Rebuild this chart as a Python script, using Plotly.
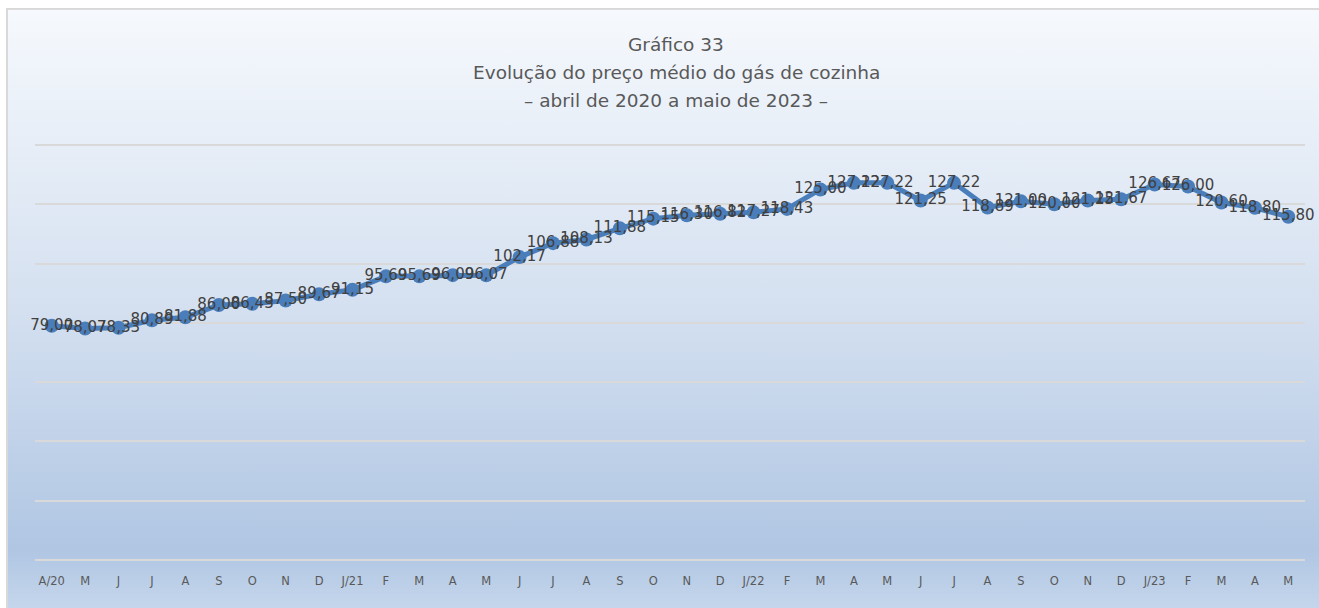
import base64
import plotly.graph_objects as go

# ---- data ----
month_labels = ["A/20", "M", "J", "J", "A", "S", "O", "N", "D",
                "J/21", "F", "M", "A", "M", "J", "J", "A", "S", "O", "N", "D",
                "J/22", "F", "M", "A", "M", "J", "J", "A", "S", "O", "N", "D",
                "J/23", "F", "M", "A", "M"]
prices = [79.00, 78.07, 78.33, 80.89, 81.88, 86.00, 86.43, 87.50, 89.67,
          91.15, 95.69, 95.69, 96.09, 96.07, 102.17, 106.88, 108.13, 111.88, 115.15, 116.30, 116.82,
          117.27, 118.43, 125.00, 127.22, 127.22, 121.25, 127.22, 118.89, 121.00, 120.00, 121.25, 121.67,
          126.67, 126.00, 120.60, 118.80, 115.80]
y_ticks = [0, 20, 40, 60, 80, 100, 120, 140]

title_lines = ["Gráfico 33",
               "Evolução do preço médio do gás de cozinha",
               "– abril de 2020 a maio de 2023 –"]
title_line_px = [45, 73, 101]

# ---- layout geometry (pixels) ----
W, H = 1319, 608
Y0_PX, Y140_PX = 560, 145          # pixel rows of value 0 and 140
YMIN, YMAX = -1, 141               # padded range so edge gridlines are drawn
ppu = (Y0_PX - Y140_PX) / 140.0
ML, MR = 35, 14
MT = Y140_PX - (YMAX - 140) * ppu
MB = H - Y0_PX - (0 - YMIN) * ppu
PW = W - ML - MR
PH = H - MT - MB

x_idx = list(range(len(prices)))
labels = [f"{v:.2f}".replace(".", ",") for v in prices]

def py_to_paper(py):
    return (H - MB - py) / PH

def px_to_paper(px):
    return (px - ML) / PW

# background gradient (chart area) as an SVG image
bx0, by0 = 6, 8
bw, bh = W - bx0 + 2, H - by0 + 2
svg = f'''<svg xmlns="http://www.w3.org/2000/svg" width="{bw}" height="{bh}" viewBox="0 0 {bw} {bh}" preserveAspectRatio="none">
<defs><linearGradient id="g" x1="0" y1="0" x2="0" y2="1">
<stop offset="0" stop-color="#f6f9fd"/>
<stop offset="0.5" stop-color="#d4e0f0"/>
<stop offset="0.9" stop-color="#b0c6e3"/>
<stop offset="1" stop-color="#c6d7ec"/>
</linearGradient></defs>
<rect x="1" y="1" width="{bw}" height="{bh}" fill="url(#g)" stroke="#d9d9d9" stroke-width="2"/>
</svg>'''
src = "data:image/svg+xml;base64," + base64.b64encode(svg.encode()).decode()

fig = go.Figure()
fig.add_trace(go.Scatter(
    x=x_idx, y=prices,
    mode="lines+markers+text",
    line=dict(color="#4a7ebb", width=5),
    marker=dict(color="#4a7ebb", size=14),
    text=labels,
    textposition="middle center",
    textfont=dict(family="DejaVu Sans", size=15, color="#404040"),
    cliponaxis=False,
    hoverinfo="x+y",
    showlegend=False,
))

fig.add_layout_image(dict(
    source=src, xref="paper", yref="paper",
    x=px_to_paper(bx0), y=py_to_paper(by0),
    sizex=bw / PW, sizey=bh / PH,
    xanchor="left", yanchor="top",
    sizing="stretch", layer="below",
))

for txt, py in zip(title_lines, title_line_px):
    fig.add_annotation(
        text=txt, xref="paper", yref="paper",
        x=px_to_paper(676), y=py_to_paper(py),
        xanchor="center", yanchor="middle", showarrow=False,
        font=dict(family="DejaVu Sans", size=18.5, color="#595959"),
    )

fig.update_layout(
    width=W, height=H,
    margin=dict(l=ML, r=MR, t=MT, b=MB),
    paper_bgcolor="white",
    plot_bgcolor="rgba(0,0,0,0)",
    xaxis=dict(
        range=[-0.5, len(prices) - 0.5],
        tickmode="array", tickvals=x_idx, ticktext=month_labels,
        showgrid=False, zeroline=False, showline=False,
        ticks="", ticklabelstandoff=9,
        tickfont=dict(family="DejaVu Sans", size=11.5, color="#595959"),
        fixedrange=True,
    ),
    yaxis=dict(
        range=[YMIN, YMAX],
        tickmode="array", tickvals=y_ticks,
        showticklabels=False,
        showgrid=True, gridcolor="#d9d9d9", gridwidth=2,
        zeroline=False, showline=False, ticks="",
        fixedrange=True,
    ),
)

fig.write_html("out.html",
               config={"displayModeBar": False},
               post_script="document.body.style.margin='0';")
